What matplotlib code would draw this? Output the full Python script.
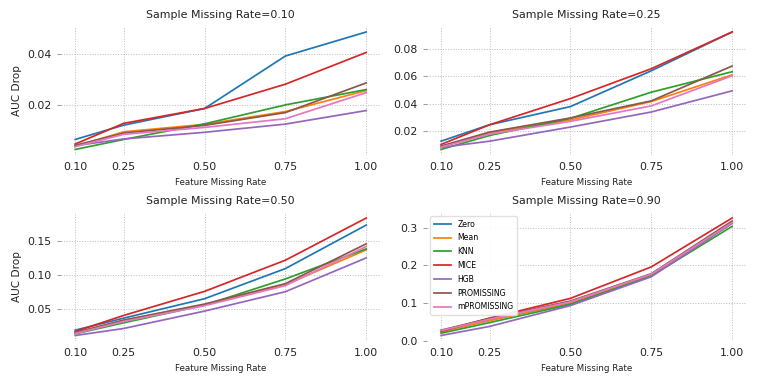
import numpy as np
import matplotlib
matplotlib.use("Agg")
import matplotlib.pyplot as plt

feature_rates = [0.10, 0.25, 0.50, 0.75, 1.00]
sample_rates = ["0.10", "0.25", "0.50", "0.90"]
methods = ["Zero", "Mean", "KNN", "MICE", "HGB", "PROMISSING", "mPROMISSING"]

# AUC drop per method, one list per sample missing rate
smr_010 = {
    "Zero":        [0.0066, 0.0122, 0.0187, 0.0392, 0.0486],
    "Mean":        [0.0039, 0.0096, 0.0125, 0.0175, 0.0257],
    "KNN":         [0.0027, 0.0066, 0.0127, 0.0201, 0.0261],
    "MICE":        [0.0048, 0.0129, 0.0187, 0.0282, 0.0406],
    "HGB":         [0.0042, 0.0068, 0.0094, 0.0126, 0.0179],
    "PROMISSING":  [0.0043, 0.0091, 0.0121, 0.0171, 0.0287],
    "mPROMISSING": [0.0038, 0.0086, 0.0113, 0.0147, 0.0249],
}
smr_025 = {
    "Zero":        [0.0123, 0.0244, 0.0378, 0.0642, 0.0928],
    "Mean":        [0.0082, 0.0185, 0.0279, 0.0415, 0.0612],
    "KNN":         [0.0062, 0.0165, 0.0291, 0.0484, 0.0635],
    "MICE":        [0.0099, 0.0244, 0.0437, 0.0657, 0.0928],
    "HGB":         [0.0077, 0.0123, 0.0227, 0.0338, 0.0494],
    "PROMISSING":  [0.0087, 0.0190, 0.0294, 0.0420, 0.0677],
    "mPROMISSING": [0.0079, 0.0175, 0.0269, 0.0383, 0.0605],
}
smr_050 = {
    "Zero":        [0.0188, 0.0366, 0.0653, 0.1099, 0.1743],
    "Mean":        [0.0149, 0.0332, 0.0564, 0.0861, 0.1376],
    "KNN":         [0.0134, 0.0297, 0.0559, 0.0946, 0.1391],
    "MICE":        [0.0168, 0.0406, 0.0762, 0.1223, 0.1847],
    "HGB":         [0.0109, 0.0213, 0.0470, 0.0757, 0.1257],
    "PROMISSING":  [0.0153, 0.0337, 0.0574, 0.0876, 0.1465],
    "mPROMISSING": [0.0139, 0.0317, 0.0550, 0.0847, 0.1426],
}
smr_090 = {
    "Zero":        [0.027, 0.056, 0.100, 0.176, 0.314],
    "Mean":        [0.025, 0.054, 0.102, 0.175, 0.311],
    "KNN":         [0.021, 0.049, 0.097, 0.172, 0.303],
    "MICE":        [0.026, 0.061, 0.113, 0.196, 0.325],
    "HGB":         [0.015, 0.039, 0.094, 0.170, 0.311],
    "PROMISSING":  [0.029, 0.060, 0.106, 0.178, 0.317],
    "mPROMISSING": [0.028, 0.058, 0.104, 0.177, 0.313],
}
all_data = [smr_010, smr_025, smr_050, smr_090]

colors = ["#1f77b4", "#ff7f0e", "#2ca02c", "#d62728", "#9467bd", "#8c564b", "#e377c2"]

fig, axes = plt.subplots(2, 2, figsize=(7.58, 3.84), dpi=100)
plt.subplots_adjust(left=0.080, right=0.985, top=0.932, bottom=0.111,
                    wspace=0.143, hspace=0.44)

for i, ax in enumerate(axes.flat):
    data = all_data[i]
    for m, c in zip(methods, colors):
        ax.plot(feature_rates, data[m], color=c, lw=1.25, label=m)
    ax.set_title("Sample Missing Rate=" + sample_rates[i], fontsize=7.9, color="#222222")
    ax.set_xlabel("Feature Missing Rate", fontsize=6.3, color="#222222")
    if i % 2 == 0:
        ax.set_ylabel("AUC Drop", fontsize=7.6, color="#222222")
    ax.set_xticks(feature_rates)
    ax.set_xticklabels(["0.10", "0.25", "0.50", "0.75", "1.00"])
    ax.tick_params(axis="x", length=0, labelsize=7.8, colors="#222222", pad=5)
    ax.tick_params(axis="y", length=3, width=0.6, color="#888888", labelsize=7.8,
                   labelcolor="#222222")
    ax.grid(True, linestyle=":", color="#bbbbbb", lw=0.7)
    for s in ax.spines.values():
        s.set_visible(False)

axes[0, 0].set_yticks([0.02, 0.04])
axes[0, 1].set_yticks([0.02, 0.04, 0.06, 0.08])
axes[1, 0].set_yticks([0.05, 0.10, 0.15])
axes[1, 1].set_yticks([0.0, 0.1, 0.2, 0.3])

axes[1, 1].legend(loc="upper left", fontsize=5.6, frameon=True, framealpha=0.9,
                  edgecolor="#dddddd", handlelength=2.2, labelspacing=0.62,
                  borderpad=0.45)

plt.savefig("out.png", dpi=100)
